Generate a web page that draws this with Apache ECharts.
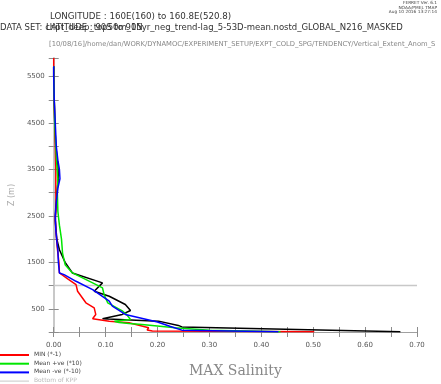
<!DOCTYPE html>
<html><head><meta charset="utf-8">
<script src="https://cdn.jsdelivr.net/npm/echarts@6/dist/echarts.min.js"></script>
<style>html,body{margin:0;padding:0;background:#fff}#c{width:441px;height:384px}</style>
</head><body><div id="c"></div>
<script>
// [value, depth (m)] pairs, surface to bottom
const maxProfile = [[0.668,5],[0.247,110],[0.240,142],[0.202,234],[0.094,285],[0.132,378],[0.148,464],[0.138,592],[0.107,770],[0.078,878],[0.094,1058],[0.036,1272],[0.022,1500],[0.011,1772],[0.006,2000],[0.003,2400],[0.004,2700],[0.006,3000],[0.009,3300],[0.008,3600],[0.004,4000],[0.002,4500],[0.001,5000],[0,5500],[0,5720]];
const minProfile = [[0.502,5],[0.19,20],[0.18,45],[0.183,92],[0.145,200],[0.107,234],[0.075,285],[0.081,378],[0.078,521],[0.062,629],[0.046,878],[0.043,1021],[0.027,1144],[0.011,1272],[0.010,1500],[0.007,1800],[0.004,2200],[0.003,2480],[0.005,2700],[0.004,3000],[0.004,3500],[0.003,4000],[0.002,4500],[0.001,5000],[0,5500],[0,5900]];
const meanPosProfile = [[0.437,5],[0.30,40],[0.234,92],[0.170,163],[0.145,185],[0.126,205],[0.117,232],[0.148,270],[0.140,380],[0.133,448],[0.104,629],[0.097,807],[0.094,951],[0.075,1058],[0.036,1272],[0.022,1450],[0.017,1700],[0.015,2000],[0.011,2300],[0.008,2600],[0.007,3000],[0.008,3300],[0.006,3600],[0.004,4000],[0.002,4500],[0.001,5000],[0,5500],[0,5720]];
const meanNegProfile = [[0.433,5],[0.247,40],[0.225,120],[0.200,215],[0.138,378],[0.113,556],[0.107,663],[0.075,914],[0.043,1092],[0.020,1236],[0.011,1272],[0.009,1500],[0.008,1772],[0.006,1950],[0.004,2200],[0.003,2500],[0.005,2800],[0.008,3100],[0.012,3300],[0.011,3500],[0.008,3700],[0.005,4000],[0.003,4500],[0.001,5000],[0,5500],[0,5720]];
const kppDepth = 1000;
const kppRange = [0, 0.7];
const legendNames = ['MIN (*-1)', 'Mean +ve (*10)', 'Mean -ve (*-10)', 'Bottom of KPP'];
const legendColors = ['#ff0000', '#00e600', '#0000ff', '#c8c8c8'];
const titleLines = ['LONGITUDE : 160E(160) to 160.8E(520.8)',
  'DATA SET: chpt_deep_top50m_15yr_neg_trend-lag_5-53D-mean.nostd_GLOBAL_N216_MASKED',
  'LATITUDE : 90S to 90N',
  '[10/08/16]/home/dan/WORK/DYNAMOC/EXPERIMENT_SETUP/EXPT_COLD_SPG/TENDENCY/Vertical_Extent_Anom_S'];
const stampLines = ['FERRET Ver. 6.1', 'NOAA/PMEL TMAP', 'Aug 10 2016 13:27:14'];
const plotTitle = 'MAX Salinity';
const yName = 'Z (m)';

const chart = echarts.init(document.getElementById('c'), null, {renderer: 'canvas'});
const F = 'DejaVu Sans';
const axisCommon = {
  type: 'value', splitLine: {show: false},
  axisLine: {show: true, lineStyle: {color: '#8c8c8c', width: 1}},
  axisTick: {show: true, length: 5, lineStyle: {color: '#8c8c8c'}},
};
function line(name, data, color, w) {
  return {name, type: 'line', data, showSymbol: false, symbol: 'none', silent: true,
    lineStyle: {color, width: w}, itemStyle: {color}, animation: false};
}
const graphics = [];
graphics.push({type: 'text', left: 50, top: 12, style: {text: titleLines[0], font: '8.7px ' + F, fill: '#333'}});
graphics.push({type: 'text', left: 0, top: 23, style: {text: titleLines[1], font: '8.5px ' + F, fill: '#333'}});
graphics.push({type: 'text', left: 46, top: 23, style: {text: titleLines[2], font: '8.5px ' + F, fill: '#333'}});
graphics.push({type: 'text', left: 49, top: 41, style: {text: titleLines[3], font: '6.8px ' + F, fill: '#888'}});
stampLines.forEach((t, i) => graphics.push({type: 'text', right: 4, top: 1 + i * 4.5, style: {text: t, font: '4.3px ' + F, fill: '#444'}}));
legendNames.forEach((t, i) => {
  const y = 355 + i * 8.7;
  graphics.push({type: 'line', shape: {x1: 0, y1: y, x2: 29, y2: y}, style: {stroke: legendColors[i], lineWidth: i === 3 ? 1 : 2}});
  graphics.push({type: 'text', left: 34, top: y - 3.5, style: {text: t, font: '6px ' + F, fill: i === 3 ? '#bbb' : '#444'}});
});
graphics.push({type: 'text', left: 189, top: 364, style: {text: plotTitle, font: '14px "DejaVu Serif"', fill: '#888'}});

chart.setOption({
  animation: false,
  backgroundColor: '#fff',
  grid: {left: 51, right: 24, top: 58, bottom: 52},
  xAxis: [
    Object.assign({}, axisCommon, {min: 0, max: 0.7, interval: 0.05, position: 'bottom',
      axisLabel: {fontSize: 7, fontFamily: F, color: '#555', margin: 10,
        formatter: v => (Math.round(v * 100) % 10 === 0 ? v.toFixed(2) : '')}}),
    Object.assign({}, axisCommon, {min: 0, max: 0.7, interval: 0.05, position: 'top', axisLabel: {show: false},
      axisLine: {show: true, lineStyle: {color: '#a0a0a0', width: 1}}})
  ],
  yAxis: [
    Object.assign({}, axisCommon, {min: 0, max: 5900, interval: 500, position: 'left',
      name: yName, nameLocation: 'middle', nameGap: 32, nameRotate: 90,
      nameTextStyle: {color: '#aaa', fontSize: 8, fontFamily: F},
      axisLabel: {fontSize: 7, fontFamily: F, color: '#555', margin: 9,
        formatter: v => (v % 1000 === 500 ? String(v) : '')}}),
    Object.assign({}, axisCommon, {min: 0, max: 5900, interval: 500, position: 'right', axisLabel: {show: false},
      axisLine: {show: true, lineStyle: {color: '#c8c8c8', width: 2}}})
  ],
  series: [
    line(legendNames[3], kppRange.map(v => [v, kppDepth]), legendColors[3], 1.5),
    line('MAX', maxProfile, '#000000', 1.5),
    line(legendNames[0], minProfile, legendColors[0], 1.5),
    line(legendNames[1], meanPosProfile, legendColors[1], 1.5),
    line(legendNames[2], meanNegProfile, legendColors[2], 1.5)
  ],
  graphic: graphics
});
</script></body></html>
